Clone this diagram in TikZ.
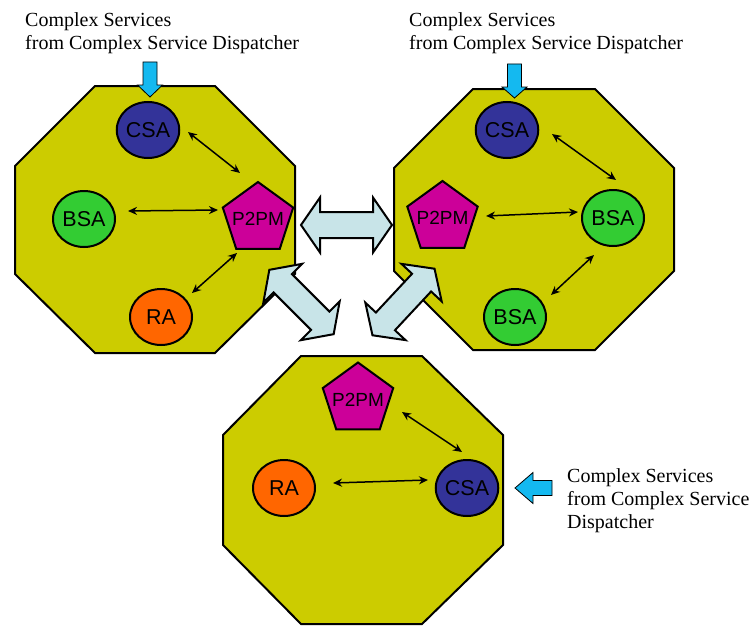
\documentclass[tikz,border=0pt]{standalone}
\usepackage{fontspec}
\setmainfont{Liberation Serif}
\newfontfamily\agentfont{Liberation Sans}
\usetikzlibrary{shapes.geometric,arrows.meta}

\definecolor{cellolive}{RGB}{204,204,0}
\definecolor{csablue}{RGB}{51,51,153}
\definecolor{bsagreen}{RGB}{51,204,51}
\definecolor{raorange}{RGB}{255,102,0}
\definecolor{pmmagenta}{RGB}{204,0,153}
\definecolor{peercyan}{RGB}{200,228,232}
\definecolor{feedblue}{RGB}{20,185,240}

\begin{document}
\begin{tikzpicture}[x=1pt,y=-1pt,
    cell/.style={fill=cellolive, draw=black, line width=2pt},
    agent/.style={ellipse, draw=black, line width=2pt, minimum width=62pt, minimum height=56pt,
      inner sep=0pt, font=\agentfont\fontsize{21.5}{21.5}\selectfont},
    peer/.style={regular polygon, regular polygon sides=5, minimum size=74pt, inner sep=0pt,
      draw=black, line width=2pt, fill=pmmagenta, font=\agentfont\fontsize{19}{19}\selectfont},
    link/.style={{Stealth[length=9pt,width=8pt]}-{Stealth[length=9pt,width=8pt]}, line width=1.5pt},
    bigarrow/.style={fill=peercyan, draw=black, line width=2pt},
    feed/.style={fill=feedblue, draw=black, line width=0.8pt},
    caption/.style={align=left, anchor=north west, inner sep=0pt, font=\fontsize{20}{23}\selectfont},
    pics/fatarrow/.style={code={
      \draw[bigarrow] (-45.5,0) -- (-26.5,-27.5) -- (-26.5,-13) -- (26.5,-13) -- (26.5,-27.5)
        -- (45.5,0) -- (26.5,27.5) -- (26.5,13) -- (-26.5,13) -- (-26.5,27.5) -- cycle;
    }}
  ]
  \useasboundingbox (0,0) rectangle (752,626);

  % cells
  \draw[cell] (95,86) -- (215,86) -- (295,166) -- (295,274) -- (215,353) -- (95,353) -- (15,274) -- (15,166) -- cycle;
  \draw[cell] (473,89) -- (595,89) -- (674,168) -- (674,271) -- (595,350) -- (473,350) -- (394,271) -- (394,168) -- cycle;
  \draw[cell] (301,356) -- (422,356) -- (503,435) -- (503,545) -- (422,624) -- (301,624) -- (223,545) -- (223,435) -- cycle;

  % peer links between cells
  \pic at (346.5,225) {fatarrow};
  \pic[rotate=-45] at (301.5,302) {fatarrow};
  \pic[rotate=47] at (403.5,302) {fatarrow};

  % incoming complex services
  \draw[feed] (143,62) -- (157,62) -- (157,85) -- (162.5,85) -- (150,97) -- (137.5,85) -- (143,85) -- cycle;
  \draw[feed] (507.5,64) -- (521.5,64) -- (521.5,87) -- (527,87) -- (514.5,98) -- (502,87) -- (507.5,87) -- cycle;
  \draw[feed] (552,480.5) -- (552,495.5) -- (533,495.5) -- (533,503.5) -- (515,488) -- (533,472.5) -- (533,480.5) -- cycle;

  \node[caption] (srcL) at (25,12.3) {Complex Services\\from Complex Service Dispatcher};
  \node[caption] (srcR) at (409,12.3) {Complex Services\\from Complex Service Dispatcher};
  \node[caption] (srcB) at (567,468.3) {Complex Services\\from Complex Service\\Dispatcher};

  % left cell
  \node[agent, fill=csablue] (csaL) at (148,130) {CSA};
  \node[agent, fill=bsagreen] (bsaL) at (84,219) {BSA};
  \node[agent, fill=raorange] (raL) at (161,317) {RA};
  \node[peer] (p2pmL) at (258,219) {\makebox[0pt]{\smash{\raisebox{-6.5pt}{P2PM}}}};
  \draw[link] ([shift={(40,2)}]csaL.center) -- ([shift={(-18,-46)}]p2pmL.center);
  \draw[link] ([shift={(44,-8)}]bsaL.center) -- ([shift={(-40,-9)}]p2pmL.center);
  \draw[link] ([shift={(31,-24)}]raL.center) -- ([shift={(-21,34)}]p2pmL.center);

  % right cell
  \node[agent, fill=csablue] (csaR) at (507,130) {CSA};
  \node[peer] (p2pmR) at (442.5,218) {\makebox[0pt]{\smash{\raisebox{-6.5pt}{P2PM}}}};
  \node[agent, fill=bsagreen] (bsaR) at (613,218) {BSA};
  \node[agent, fill=bsagreen] (bsaRb) at (515,317) {BSA};
  \draw[link] ([shift={(45,4)}]csaR.center) -- ([shift={(3,-38)}]bsaR.center);
  \draw[link] ([shift={(43.5,-2)}]p2pmR.center) -- ([shift={(-35,-6)}]bsaR.center);
  \draw[link] ([shift={(-19,37)}]bsaR.center) -- ([shift={(36,-22)}]bsaRb.center);

  % bottom cell
  \node[peer] (p2pmB) at (358,399.5) {\makebox[0pt]{\smash{\raisebox{-6.5pt}{P2PM}}}};
  \node[agent, fill=raorange] (raB) at (284,488) {RA};
  \node[agent, fill=csablue] (csaB) at (467,488) {CSA};
  \draw[link] ([shift={(44,12.5)}]p2pmB.center) -- ([shift={(-5,-36)}]csaB.center);
  \draw[link] ([shift={(49,-5)}]raB.center) -- ([shift={(-39,-8)}]csaB.center);
\end{tikzpicture}
\end{document}
